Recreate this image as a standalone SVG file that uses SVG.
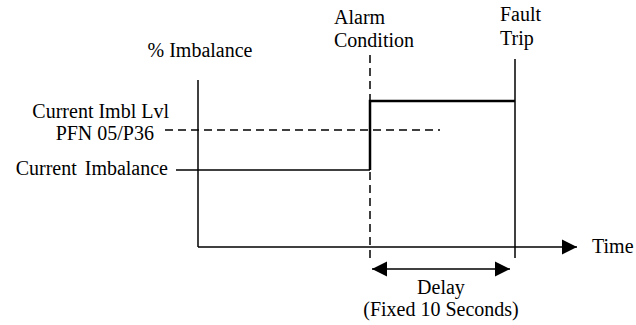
<svg xmlns="http://www.w3.org/2000/svg" width="636" height="325" viewBox="0 0 636 325">
<style>
.t{font-family:"Liberation Serif","Times New Roman","DejaVu Serif",serif;font-size:20px;fill:#000}
.ln{stroke:#000;stroke-width:1.5;fill:none}
.dash{stroke:#000;stroke-width:1.5;fill:none;stroke-dasharray:8,5}
.sig{stroke:#000;stroke-width:2.5;fill:none}
</style>
<defs>
<marker id="ah" markerWidth="15" markerHeight="16" refX="15" refY="8" orient="auto-start-reverse" markerUnits="userSpaceOnUse">
<path d="M0,0.5 L15,8 L0,15.5 Z" fill="#000"/>
</marker>
</defs>
<rect width="636" height="325" fill="#fff"/>
<g id="labels">
<text class="t" x="200" y="57" text-anchor="middle">% Imbalance</text>
<text class="t" x="169" y="118" text-anchor="end">Current Imbl Lvl</text>
<text class="t" x="154" y="140" text-anchor="end">PFN 05/P36</text>
<text class="t" x="168" y="175" text-anchor="end" word-spacing="3">Current Imbalance</text>
<text class="t" x="334" y="24">Alarm</text>
<text class="t" x="334" y="47">Condition</text>
<text class="t" x="500" y="21">Fault</text>
<text class="t" x="500" y="45">Trip</text>
<text class="t" x="592" y="253">Time</text>
<text class="t" x="441" y="294" text-anchor="middle">Delay</text>
<text class="t" x="441" y="316" text-anchor="middle">(Fixed 10 Seconds)</text>
</g>
<g id="connectors">
<line class="ln" x1="198" y1="80" x2="198" y2="247"/>
<line class="ln" x1="198" y1="247" x2="577" y2="247" marker-end="url(#ah)"/>
<line class="dash" x1="370" y1="55" x2="370" y2="258"/>
<line class="ln" x1="515" y1="59" x2="515" y2="258"/>
<line class="dash" x1="165" y1="130" x2="440" y2="130"/>
<polyline class="ln" points="176,170 370,170"/>
<polyline class="sig" points="370,170 370,101 515,101"/>
<line class="ln" x1="372" y1="269" x2="510" y2="269" stroke-width="2.5" marker-start="url(#ah)" marker-end="url(#ah)"/>
</g>
</svg>
